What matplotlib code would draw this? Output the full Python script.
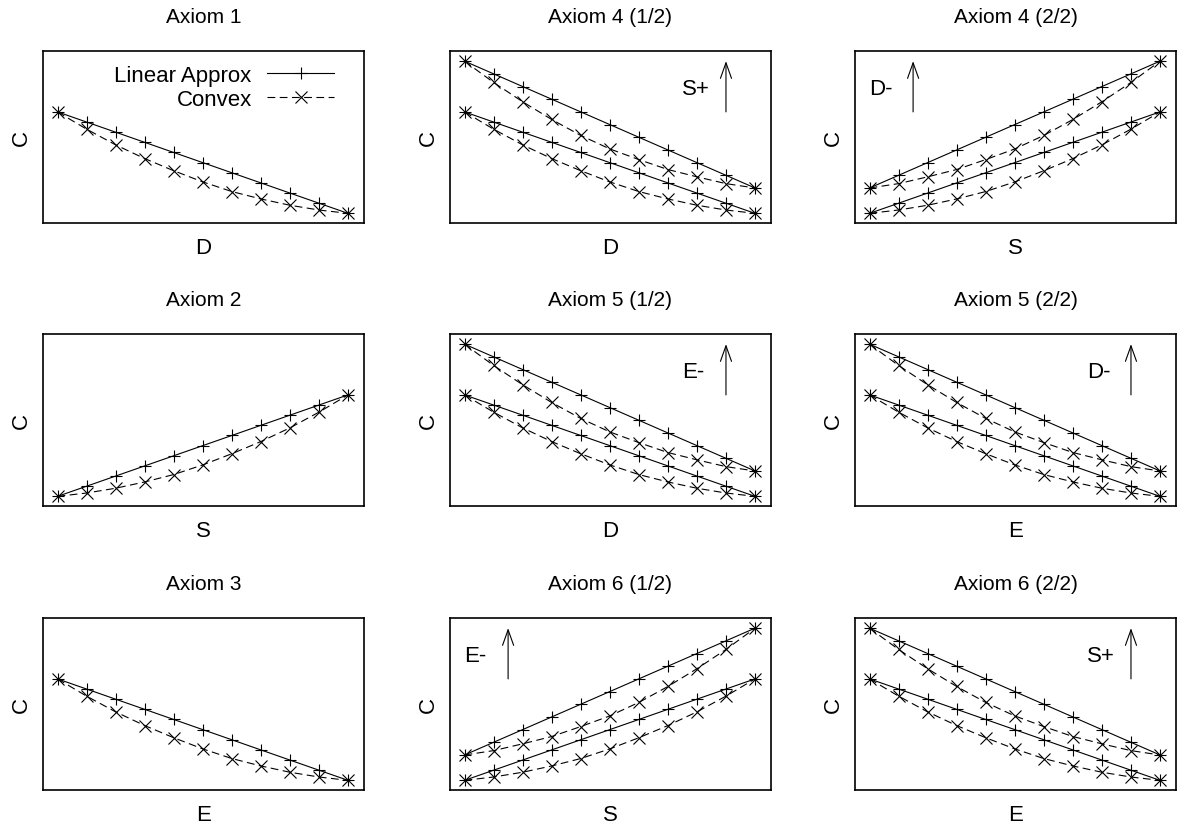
import matplotlib
matplotlib.use("Agg")
import matplotlib.pyplot as plt
from matplotlib.lines import Line2D

plt.rcParams['font.family'] = ['Liberation Sans', 'DejaVu Sans']
plt.rcParams['font.size'] = 16

# 11 sample points along the input axis
x = [0, 1, 2, 3, 4, 5, 6, 7, 8, 9, 10]

# decreasing curves (cost falls as input grows)
dec_lin_lo = [1.0, 0.90, 0.80, 0.70, 0.60, 0.50, 0.40, 0.30, 0.20, 0.10, 0.0]
dec_cvx_lo = [1.0, 0.83, 0.675, 0.54, 0.42, 0.31, 0.215, 0.142, 0.08, 0.033, 0.0]
dec_lin_hi = [1.5, 1.375, 1.25, 1.125, 1.0, 0.875, 0.75, 0.625, 0.5, 0.375, 0.25]
dec_cvx_hi = [1.5, 1.29, 1.10, 0.925, 0.768, 0.635, 0.53, 0.432, 0.36, 0.293, 0.25]

# increasing curves
inc_lin_lo = [0.0, 0.10, 0.20, 0.30, 0.40, 0.50, 0.60, 0.70, 0.80, 0.90, 1.0]
inc_cvx_lo = [0.0, 0.033, 0.08, 0.142, 0.215, 0.31, 0.42, 0.54, 0.675, 0.83, 1.0]
inc_lin_hi = [0.25, 0.375, 0.5, 0.625, 0.75, 0.875, 1.0, 1.125, 1.25, 1.375, 1.5]
inc_cvx_hi = [0.25, 0.293, 0.36, 0.432, 0.53, 0.635, 0.768, 0.925, 1.10, 1.29, 1.5]

titles = ["Axiom 1", "Axiom 4 (1/2)", "Axiom 4 (2/2)",
          "Axiom 2", "Axiom 5 (1/2)", "Axiom 5 (2/2)",
          "Axiom 3", "Axiom 6 (1/2)", "Axiom 6 (2/2)"]
xlabels = ["D", "D", "S", "S", "D", "E", "E", "S", "E"]
shift_labels = [None, "S+", "D-", None, "E-", "D-", None, "E-", "S+"]
increasing = [False, False, True, True, False, False, False, True, False]

fig = plt.figure(figsize=(11.79, 8.29), dpi=100)
W, H = 1179.0, 829.0
col_left = [43, 450, 855]
row_top = [52, 335, 619]
box_w, box_h = 321, 172

lin_kw = dict(color='black', lw=0.8, marker='+', ms=9, mew=0.8)
cvx_kw = dict(color='black', lw=0.8, ls=(0, (7, 4)), marker='x', ms=8, mew=0.8)

for i in range(9):
    r, c = divmod(i, 3)
    ax = fig.add_axes([col_left[c] / W, 1 - (row_top[r] + box_h) / H, box_w / W, box_h / H])
    if increasing[i]:
        lo = (inc_lin_lo, inc_cvx_lo)
        hi = (inc_lin_hi, inc_cvx_hi)
    else:
        lo = (dec_lin_lo, dec_cvx_lo)
        hi = (dec_lin_hi, dec_cvx_hi)

    ax.plot(x, lo[0], **lin_kw)
    ax.plot(x, lo[1], **cvx_kw)
    if shift_labels[i] is not None:
        ax.plot(x, hi[0], **lin_kw)
        ax.plot(x, hi[1], **cvx_kw)
        if increasing[i]:
            ax_x, tx = 1.5, 0.0
        else:
            ax_x, tx = 9.0, 7.5
        ax.annotate("", xy=(ax_x, 1.5), xytext=(ax_x, 1.0),
                    arrowprops=dict(arrowstyle='->,head_length=0.7,head_width=0.25',
                                    color='black', lw=0.8, shrinkA=0, shrinkB=0))
        ax.text(tx, 1.23, shift_labels[i], ha='left', va='center')

    ax.set_xlim(-0.5, 10.55)
    ax.set_ylim(-0.095, 1.6)
    ax.set_xticks([])
    ax.set_yticks([])
    for s in ax.spines.values():
        s.set_linewidth(1.2)
    ax.set_title(titles[i], pad=21, fontsize=15)
    ax.set_xlabel(xlabels[i], labelpad=10)
    ax.set_ylabel("C", labelpad=8)

    if i == 0:
        handles = [Line2D([], [], **lin_kw), Line2D([], [], **cvx_kw)]
        ax.legend(handles, ["Linear Approx", "Convex"], loc='upper right',
                  bbox_to_anchor=(0.934, 0.973), borderaxespad=0,
                  frameon=False, markerfirst=False, numpoints=1,
                  handlelength=3.0, handletextpad=0.7, labelspacing=0.15)

fig.savefig("out.png", dpi=100)
